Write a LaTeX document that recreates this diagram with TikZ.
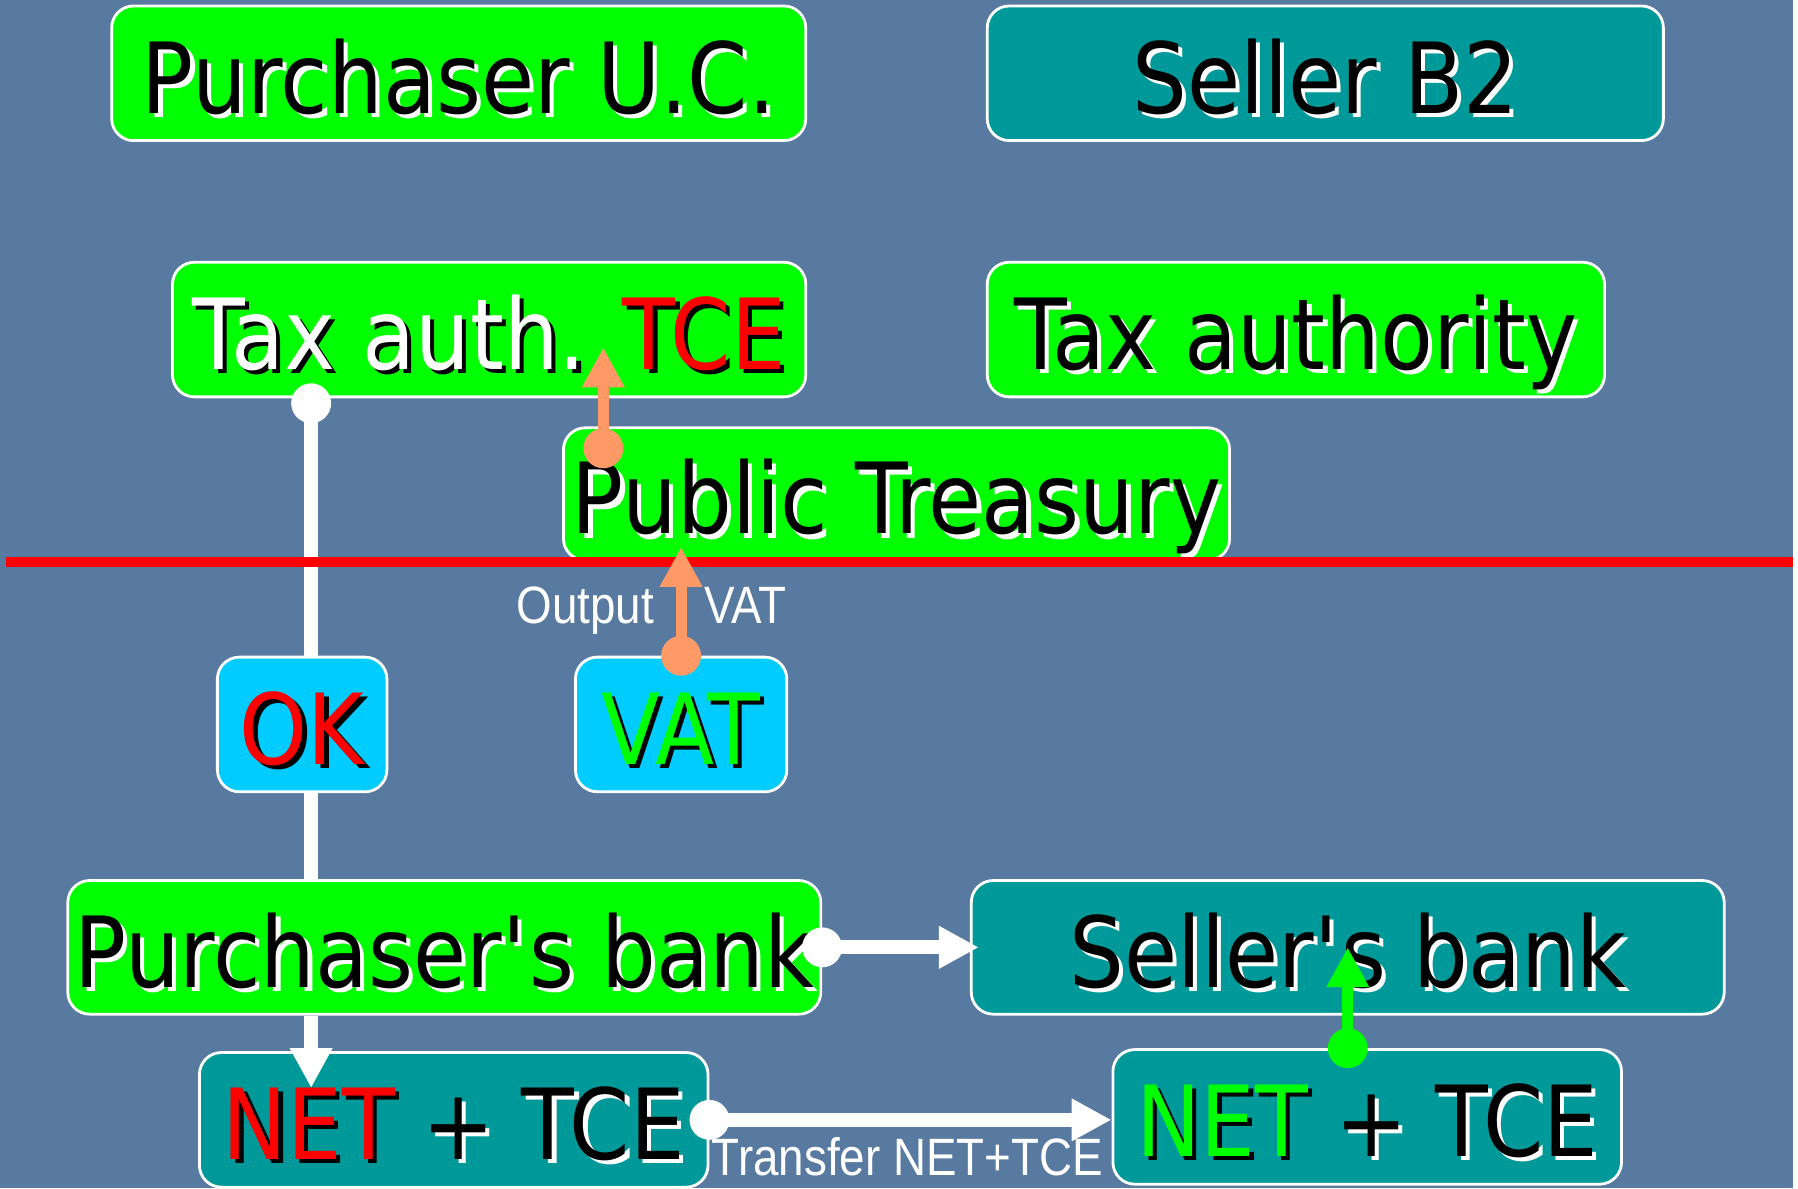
\documentclass[tikz,border=0pt]{standalone}
\usepackage{fontspec}
\setmainfont{DejaVu Sans}[FakeStretch=0.88]
\newfontfamily\labelfont{Liberation Sans}[FakeStretch=0.87]
\usetikzlibrary{arrows.meta,calc}

\definecolor{slideblue}{RGB}{88,122,160}
\definecolor{boxgreen}{RGB}{0,255,0}
\definecolor{boxteal}{RGB}{0,153,153}
\definecolor{boxcyan}{RGB}{0,204,255}
\definecolor{arrorange}{RGB}{255,153,102}

\newcommand{\shtxt}[3]{\makebox[0pt][l]{\hspace{1.2pt}\raisebox{-1.2pt}{\textcolor{#1}{#3}}}\textcolor{#2}{#3}}

\tikzset{
	box/.style={draw=white, line width=0.8pt, rounded corners=0.22cm, minimum height=1.35cm, inner sep=0pt, text height=0.80cm, text depth=0cm, font=\fontsize{28}{30}\selectfont},
	greenbox/.style={box, fill=boxgreen},
	tealbox/.style={box, fill=boxteal},
	cyanbox/.style={box, fill=boxcyan},
	wline/.style={white, line width=0.14cm},
	warrow/.style={wline, -{Triangle[width=0.4cm,length=0.4cm]}},
	oarrow/.style={arrorange, line width=0.11cm, -{Triangle[width=0.4cm,length=0.4cm]}},
	garrow/.style={boxgreen, line width=0.11cm, -{Triangle[width=0.4cm,length=0.4cm]}},
	smalltext/.style={white, anchor=base, inner sep=0pt, font=\labelfont\fontsize{15}{17}\selectfont}
}

\begin{document}
\begin{tikzpicture}
		\fill[slideblue] (0,0) rectangle (17.98,11.91);

		\node[greenbox, minimum width=6.96cm] (buyer) at (4.60,11.175) {\shtxt{white}{black}{Purchaser U.C.}};
		\node[tealbox, minimum width=6.78cm] (seller) at (13.29,11.175) {\shtxt{white}{black}{Seller B2}};
		\node[greenbox, minimum width=6.35cm] (taxtce) at (4.905,8.605) {\shtxt{black}{white}{Tax auth.} \shtxt{black}{red}{TCE}};
		\node[greenbox, minimum width=6.19cm] (taxauth) at (12.995,8.605) {\shtxt{white}{black}{Tax authority}};
		\node[greenbox, minimum width=6.68cm, minimum height=1.33cm] (treasury) at (8.99,6.955) {\shtxt{white}{black}{Public Treasury}};
		\node[cyanbox, minimum width=1.70cm] (ok) at (3.03,4.645) {\shtxt{black}{red}{OK}};
		\node[cyanbox, minimum width=2.12cm] (vat) at (6.83,4.645) {\shtxt{black}{boxgreen}{VAT}};
		\node[greenbox, minimum width=7.55cm, minimum height=1.34cm] (pbank) at (4.455,2.41) {\shtxt{white}{black}{Purchaser\textquotesingle s bank}};
		\node[tealbox, minimum width=7.55cm, minimum height=1.34cm] (sbank) at (13.515,2.41) {\shtxt{white}{black}{Seller\textquotesingle s bank}};
		\node[tealbox, minimum width=5.10cm] (netl) at (4.55,0.68) {\shtxt{black}{red}{NET} \shtxt{white}{black}{+ TCE}};
		\node[tealbox, minimum width=5.10cm] (netr) at (13.71,0.71) {\shtxt{black}{boxgreen}{NET} \shtxt{white}{black}{+ TCE}};

		\node[smalltext] (outlbl) at (5.87,5.66) {Output};
		\node[smalltext] (vatlbl) at (7.475,5.66) {VAT};
		\node[smalltext] (trlbl) at (9.10,0.12) {Transfer NET+TCE};

		\coordinate (okcol) at (3.12,0);
		\coordinate (tcecol) at (6.05,0);

		\draw[wline] (taxtce.south -| okcol) -- (ok.north -| okcol);
		\draw[wline] (ok.south -| okcol) -- (pbank.north -| okcol);
		\draw[warrow] (pbank.south -| okcol) -- ($(netl.north -| okcol)+(0,-0.37)$);
		\fill[white] ($(taxtce.south -| okcol)+(0,-0.05)$) circle (0.2cm);

		\draw[oarrow] ($(treasury.north -| tcecol)+(0,-0.22)$) -- ($(taxtce.south -| tcecol)+(0,0.51)$);
		\fill[arrorange] ($(treasury.north -| tcecol)+(0,-0.22)$) circle (0.2cm);

		\draw[red, line width=0.1cm] (0.06,6.27) -- (17.98,6.27);

		\draw[oarrow] (vat.north) -- ($(treasury.south -| vat.north)+(0,0.15)$);
		\fill[arrorange] (vat.north) circle (0.2cm);

		\draw[warrow] (pbank.east) -- ($(sbank.west)+(0.09,0)$);
		\fill[white] (pbank.east) circle (0.2cm);

		\draw[warrow] (netl.east) -- (netr.west |- netl.east);
		\fill[white] (netl.east) circle (0.2cm);

		\draw[garrow] (netr.north -| sbank.center) -- (sbank.center);
		\fill[boxgreen] (netr.north -| sbank.center) circle (0.2cm);
\end{tikzpicture}
\end{document}
